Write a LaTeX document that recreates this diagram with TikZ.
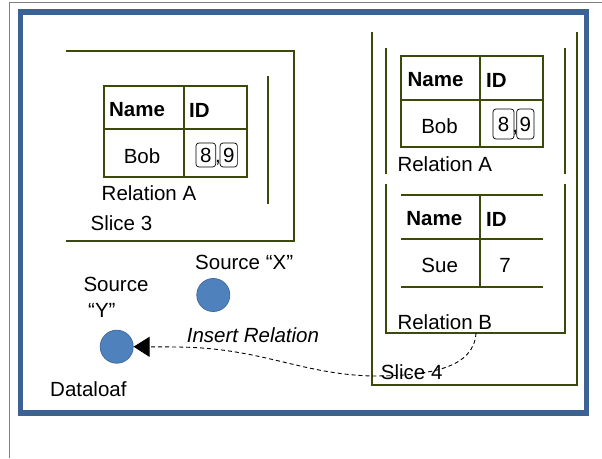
\documentclass[tikz,border=0pt]{standalone}
\usepackage{fontspec}
\setmainfont{Liberation Sans}
\usetikzlibrary{arrows.meta}
\definecolor{slicegreen}{RGB}{58,74,10}
\definecolor{framegray}{RGB}{128,128,128}
\definecolor{frameblue}{RGB}{60,98,148}
\definecolor{dotblue}{RGB}{79,129,189}
\definecolor{dotedge}{RGB}{66,108,160}
\tikzset{
  txt/.style={inner sep=0pt, font=\fontsize{20.5}{24}\selectfont},
  hdr/.style={inner sep=0pt, font=\fontsize{20.5}{24}\selectfont\bfseries},
  wall/.style={draw=slicegreen, line width=2pt},
  tablerule/.style={draw=slicegreen, line width=2.3pt},
  digitbox/.style={draw=black, line width=0.7pt, rounded corners=3pt, inner sep=0pt,
    font=\fontsize{20.5}{24}\selectfont},
  source/.style={circle, fill=dotblue, draw=dotedge, line width=0.8pt,
    minimum size=33pt, inner sep=0pt},
  link/.style={line width=0.9pt, dash pattern=on 4pt off 3pt,
    -{Triangle[length=16pt,width=20pt]}}
}
\begin{document}
\begin{tikzpicture}[x=1pt,y=-1pt]
  \fill[white] (0,0) rectangle (602,458);
  \useasboundingbox (0,0) rectangle (602,458);

  % page edges and the blue outer frame
  \draw[framegray, line width=1pt] (9.3,458) -- (9.3,2.3) -- (602,2.3);
  \draw[frameblue, line width=5.5pt] (20.3,12.2) rectangle (586.3,413.2);

  % ---- Slice 3 ----
  \draw[wall] (66,51) -- (294,51) -- (294,241) -- (66,241);
  \draw[wall] (268,76) -- (268,204);
  % Relation A table
  \draw[tablerule] (104,86) rectangle (247,177);
  \draw[tablerule] (104,129) -- (247,129);
  \draw[tablerule] (184,86) -- (184,177);
  \node[hdr] (l3name) at (137,110) {Name};
  \node[hdr, anchor=west] (l3id) at (189,110) {ID};
  \node[txt] (l3bob) at (142,156) {Bob};
  \node[digitbox, minimum width=19.7pt, minimum height=24pt] (l3eight) at (205.8,155) {8};
  \node[digitbox, minimum width=17.3pt, minimum height=24pt] (l3nine) at (228.7,155) {9};
  \node[txt, anchor=base] (l3comma) at (218,162.5) {,};
  \node[txt, anchor=west] (l3rel) at (101.5,193) {Relation A};
  \node[txt, anchor=west] (l3slice) at (90.5,223) {Slice 3};

  % ---- Slice 4 ----
  \draw[wall] (372,32) -- (372,385) -- (577,385) -- (577,32);
  % Relation A
  \draw[wall] (386,48) -- (386,174);
  \draw[wall] (564.5,48) -- (564.5,174);
  \draw[tablerule, line width=2.6pt] (401,56) rectangle (543,147);
  \draw[tablerule, line width=2.6pt] (401,100) -- (543,100);
  \draw[tablerule, line width=2.6pt] (480,56) -- (480,147);
  \node[hdr] (r4name) at (435.5,80) {Name};
  \node[hdr, anchor=west] (r4id) at (486,80) {ID};
  \node[txt] (r4bob) at (439.5,126) {Bob};
  \node[digitbox, minimum width=21pt, minimum height=30pt] (r4eight) at (503.5,124) {8};
  \node[digitbox, minimum width=17.3pt, minimum height=30pt] (r4nine) at (525.3,124) {9};
  \node[txt, anchor=base] (r4comma) at (515.3,132) {,};
  \node[txt, anchor=west] (r4rel) at (397.3,164) {Relation A};
  % Relation B
  \draw[wall] (386,184) -- (386,333) -- (565,333) -- (565,184);
  \draw[tablerule, line width=2pt] (401,195) -- (543,195);
  \draw[tablerule, line width=2pt] (401,239) -- (543,239);
  \draw[tablerule, line width=2pt] (401,287) -- (543,287);
  \draw[tablerule, line width=2pt] (480,195) -- (480,287);
  \node[hdr] (bname) at (434.3,219) {Name};
  \node[hdr, anchor=west] (bid) at (486,219) {ID};
  \node[txt] (bsue) at (439.7,265) {Sue};
  \node[txt] (bseven) at (505,265) {7};
  \node[txt, anchor=west] (brel) at (397.3,321.7) {Relation B};
  \node[txt, anchor=west] (slicefour) at (380.7,371.7) {Slice 4};
  \coordinate (relbfoot) at (476,333);

  % ---- Sources ----
  \node[source] (srcx) at (213.3,295) {};
  \node[source] (srcy) at (116.7,346.7) {};
  \node[txt, anchor=west] (srcxlabel) at (195,262.7) {Source “X”};
  \node[txt, anchor=west] (srcylabel) at (83.3,284.3) {Source};
  \node[txt, anchor=west] (srcyquote) at (88,310) {“Y”};
  \node[txt, anchor=west] (dataloaf) at (50,389.3) {Dataloaf};
  \node[txt, anchor=west, font=\fontsize{20.5}{24}\selectfont\itshape] (insert) at (186.7,335) {Insert Relation};

  % insert path from Relation B back to source Y
  \draw[link] (relbfoot) .. controls (474,368) and (430,376) .. (372,376)
    .. controls (300,374) and (262,348) .. (178,347) -- (srcy.east);
\end{tikzpicture}
\end{document}
